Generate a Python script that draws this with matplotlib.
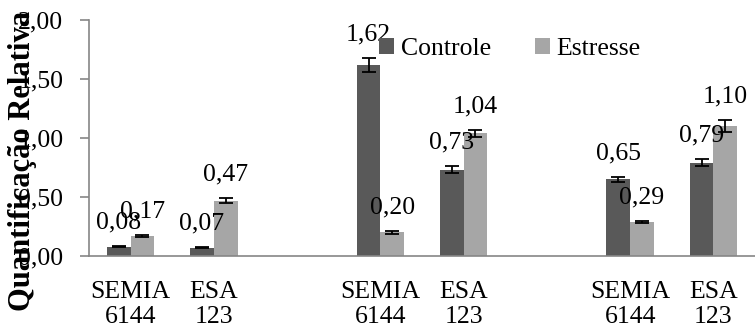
import matplotlib.pyplot as plt
import numpy as np

# Quantificação relativa por estirpe (três blocos de SEMIA 6144 / ESA 123)
categorias = ['SEMIA\n6144', 'ESA\n123', '', 'SEMIA\n6144', 'ESA\n123', '', 'SEMIA\n6144', 'ESA\n123']
controle = [0.08, 0.07, 1.62, 0.73, 0.65, 0.79]
estresse = [0.17, 0.47, 0.20, 1.04, 0.29, 1.10]
erro_controle = [0.005, 0.005, 0.06, 0.03, 0.02, 0.03]
erro_estresse = [0.01, 0.02, 0.01, 0.03, 0.01, 0.05]

COR_CONTROLE = '#595959'
COR_ESTRESSE = '#A6A6A6'
FONTE = 'Liberation Serif'
TAM = 18.5

plt.rcParams['font.family'] = [FONTE, 'DejaVu Serif']

fig = plt.figure(figsize=(7.55, 3.31), dpi=100)
ax = fig.add_axes([89 / 755, 75 / 331, (755 - 89) / 755, 236 / 331])

# posições ocupadas (slots 2 e 5 ficam vazios para separar os blocos)
pos = np.array([0, 1, 3, 4, 6, 7])
w = 0.285

ax.bar(pos - w / 2, controle, w, color=COR_CONTROLE, label='Controle', zorder=2)
ax.bar(pos + w / 2, estresse, w, color=COR_ESTRESSE, label='Estresse', zorder=2)
ax.errorbar(pos - w / 2, controle, yerr=erro_controle, fmt='none', ecolor='black',
            elinewidth=1.3, capsize=5, capthick=1.3, zorder=3)
ax.errorbar(pos + w / 2, estresse, yerr=erro_estresse, fmt='none', ecolor='black',
            elinewidth=1.3, capsize=5, capthick=1.3, zorder=3)

# rótulos de valor acima de cada barra
for xs, vals, errs in [(pos - w / 2, controle, erro_controle), (pos + w / 2, estresse, erro_estresse)]:
    for x, v, e in zip(xs, vals, errs):
        ax.annotate(f'{v:.2f}'.replace('.', ','), (x, v + e), xytext=(0, 17),
                    textcoords='offset points', ha='center', va='center',
                    fontsize=TAM, zorder=4)

ax.set_xlim(-0.5, 7.5)
ax.set_ylim(0, 2.0)
ax.set_yticks([0, 0.5, 1.0, 1.5, 2.0])
ax.set_yticklabels(['0,00', '0,50', '1,00', '1,50', '2,00'], fontsize=TAM)
ax.set_xticks(range(len(categorias)))
ax.set_xticklabels(categorias, fontsize=TAM, linespacing=1.15)
ax.tick_params(axis='x', length=0, pad=18)
ax.tick_params(axis='y', length=6.5, color='#868686', width=1.2, pad=12)

for s in ['top', 'right']:
    ax.spines[s].set_visible(False)
for s in ['left', 'bottom']:
    ax.spines[s].set_color('#868686')
    ax.spines[s].set_linewidth(1.2)

fig.text(23 / 755, 1 - 161 / 331, 'Quantificação Relativa', rotation=90,
         ha='center', va='center', fontsize=22, fontweight='bold')

ax.legend(loc='upper left', bbox_to_anchor=(379 / 755, 1 - 38 / 331),
          bbox_transform=fig.transFigure, ncol=2, frameon=False,
          fontsize=TAM, handlelength=0.6, handleheight=0.6, handletextpad=0.25,
          columnspacing=1.7, borderpad=0, borderaxespad=0)

fig.savefig('out.png', dpi=100)
